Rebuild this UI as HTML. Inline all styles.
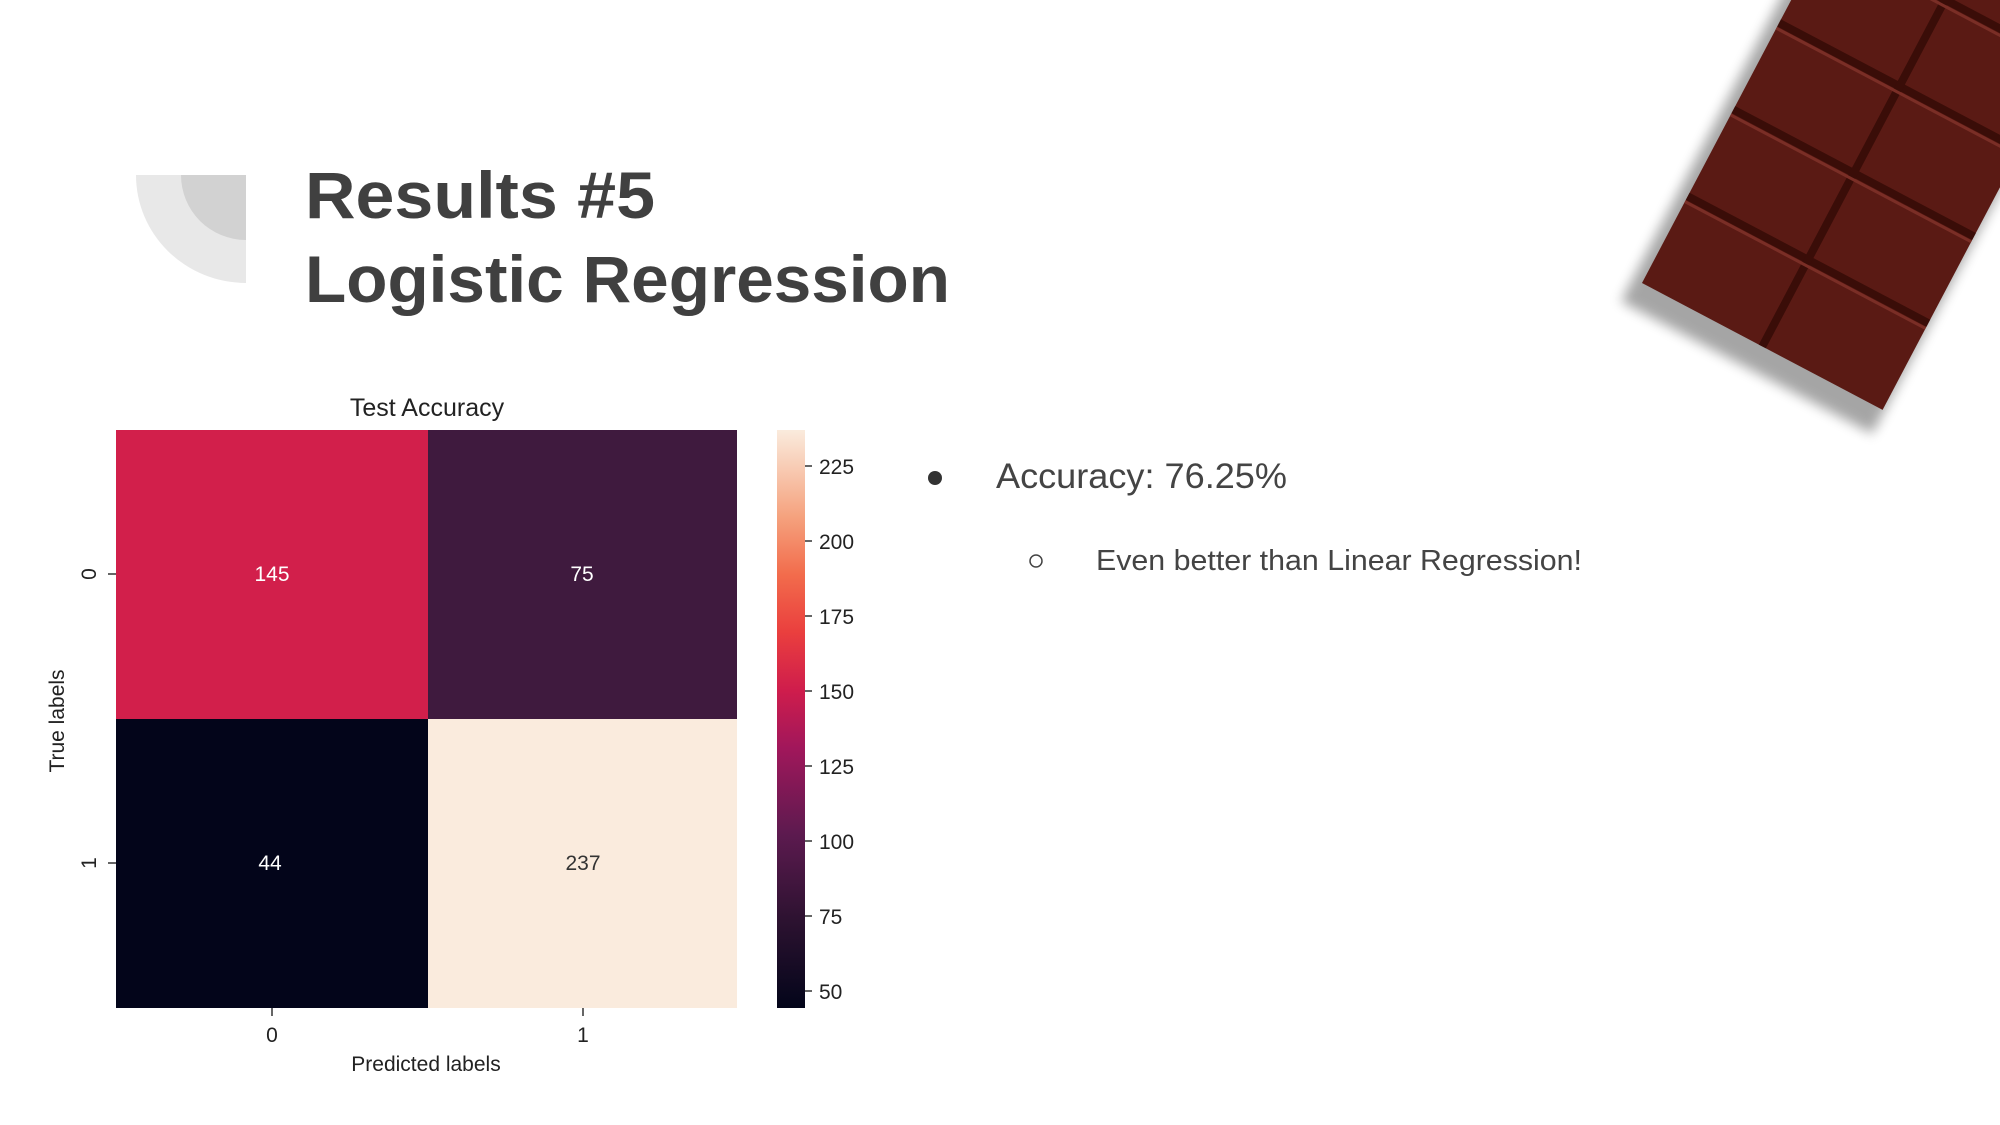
<!DOCTYPE html>
<html><head><meta charset="utf-8"><style>
html,body{margin:0;padding:0;background:#fff;}
svg{display:block;}
</style></head><body>
<svg width="2000" height="1125" viewBox="0 0 2000 1125" xmlns="http://www.w3.org/2000/svg" font-family="Liberation Sans, DejaVu Sans, sans-serif">
<defs>
<linearGradient id="rocket" x1="0" y1="1" x2="0" y2="0">
<stop offset="0" stop-color="#03051a"/>
<stop offset="0.15" stop-color="#2c1230"/>
<stop offset="0.3" stop-color="#5c1a4f"/>
<stop offset="0.45" stop-color="#a1175b"/>
<stop offset="0.55" stop-color="#cf1d4c"/>
<stop offset="0.65" stop-color="#ea3f3e"/>
<stop offset="0.75" stop-color="#f26c4c"/>
<stop offset="0.85" stop-color="#f5a27e"/>
<stop offset="1" stop-color="#faebdd"/>
</linearGradient>
<filter id="sh" x="-30%" y="-30%" width="160%" height="160%"><feGaussianBlur stdDeviation="6"/></filter>
</defs>

<!-- decoration -->
<path d="M136,175 H246 V283 A110,108 0 0 1 136,175 Z" fill="#e8e8e8"/>
<path d="M181,175 H246 V240 A65,65 0 0 1 181,175 Z" fill="#d2d2d2"/>

<!-- title -->
<text x="305" y="218" font-size="66" font-weight="bold" fill="#404040" textLength="350" lengthAdjust="spacingAndGlyphs">Results #5</text>
<text x="305" y="302" font-size="66" font-weight="bold" fill="#404040" textLength="645" lengthAdjust="spacingAndGlyphs">Logistic Regression</text>

<!-- chocolate -->
<g transform="translate(1642,283) rotate(27.8)">
<rect x="-6" y="-560" width="284" height="572" fill="#000" opacity="0.35" filter="url(#sh)" transform="translate(-4,14)"/>
<rect x="0" y="-560" width="272" height="560" fill="#5a1a14"/>
<g stroke="#3a0d08" stroke-width="8">
<line x1="0" y1="-98" x2="272" y2="-98"/>
<line x1="0" y1="-196" x2="272" y2="-196"/>
<line x1="0" y1="-294" x2="272" y2="-294"/>
<line x1="0" y1="-392" x2="272" y2="-392"/>
<line x1="0" y1="-490" x2="272" y2="-490"/>
<line x1="136" y1="0" x2="136" y2="-560"/>
</g>
<g stroke="#7a2e26" stroke-width="3">
<line x1="0" y1="-92" x2="272" y2="-92"/>
<line x1="0" y1="-190" x2="272" y2="-190"/>
<line x1="0" y1="-288" x2="272" y2="-288"/>
<line x1="0" y1="-386" x2="272" y2="-386"/>
<line x1="0" y1="-484" x2="272" y2="-484"/>
</g>
</g>

<!-- heatmap -->
<text x="427" y="416" font-size="25" text-anchor="middle" fill="#222">Test Accuracy</text>
<rect x="116" y="430" width="312" height="289" fill="#d21f4b"/>
<rect x="428" y="430" width="309" height="289" fill="#3f1a3e"/>
<rect x="116" y="719" width="312" height="289" fill="#03051a"/>
<rect x="428" y="719" width="309" height="289" fill="#faebdd"/>
<g font-size="21" text-anchor="middle">
<text x="272" y="581" fill="#fff">145</text>
<text x="582" y="581" fill="#fff">75</text>
<text x="270" y="870" fill="#fff">44</text>
<text x="583" y="870" fill="#333">237</text>
</g>
<g stroke="#333" stroke-width="1.5">
<line x1="108" y1="574" x2="116" y2="574"/>
<line x1="108" y1="863" x2="116" y2="863"/>
<line x1="272" y1="1008" x2="272" y2="1016"/>
<line x1="583" y1="1008" x2="583" y2="1016"/>
</g>
<g font-size="21" fill="#222">
<text transform="translate(96,574) rotate(-90)" text-anchor="middle">0</text>
<text transform="translate(96,863) rotate(-90)" text-anchor="middle">1</text>
<text x="272" y="1042" text-anchor="middle">0</text>
<text x="583" y="1042" text-anchor="middle">1</text>
<text x="426" y="1071" text-anchor="middle">Predicted labels</text>
<text transform="translate(64,721) rotate(-90)" text-anchor="middle">True labels</text>
</g>

<!-- colorbar -->
<rect x="777" y="430" width="28" height="578" fill="url(#rocket)"/>
<g stroke="#333" stroke-width="1.5">
<line x1="805" y1="466" x2="812" y2="466"/>
<line x1="805" y1="541" x2="812" y2="541"/>
<line x1="805" y1="616" x2="812" y2="616"/>
<line x1="805" y1="691" x2="812" y2="691"/>
<line x1="805" y1="766" x2="812" y2="766"/>
<line x1="805" y1="841" x2="812" y2="841"/>
<line x1="805" y1="916" x2="812" y2="916"/>
<line x1="805" y1="991" x2="812" y2="991"/>
</g>
<g font-size="21" fill="#222">
<text x="819" y="474">225</text>
<text x="819" y="549">200</text>
<text x="819" y="624">175</text>
<text x="819" y="699">150</text>
<text x="819" y="774">125</text>
<text x="819" y="849">100</text>
<text x="819" y="924">75</text>
<text x="819" y="999">50</text>
</g>

<!-- bullets -->
<circle cx="935" cy="478" r="7" fill="#333"/>
<text x="996" y="488" font-size="35" fill="#444" textLength="291" lengthAdjust="spacingAndGlyphs">Accuracy: 76.25%</text>
<circle cx="1036" cy="561" r="6" fill="none" stroke="#444" stroke-width="1.5"/>
<text x="1096" y="570" font-size="29" fill="#444" textLength="486" lengthAdjust="spacingAndGlyphs">Even better than Linear Regression!</text>
</svg>
</body></html>
